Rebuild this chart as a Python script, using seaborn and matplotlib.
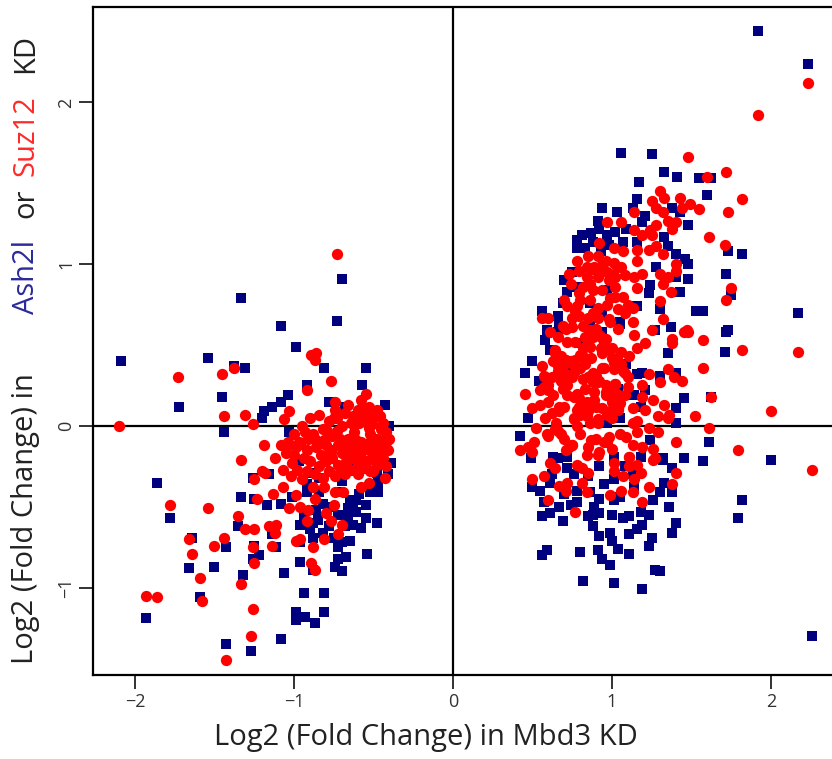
import matplotlib
matplotlib.use('Agg')
import matplotlib.pyplot as plt
import seaborn as sns
import pandas as pd

# values (Mbd3 KD, Ash2l / Suz12 KD)
ash2l_left_x = [-2.09, -1.33, -1.08, -0.99, -0.70, -0.73, -1.54, -1.38, -1.31, -0.81, -0.55, -0.92, -0.57, -1.72, -1.45, -1.44, -1.04, -1.08, -1.14, -1.19, -1.20, -0.78, -0.68, -0.43, -0.40, -1.03,
                -1.86, -1.78, -1.64, -1.43, -1.66, -1.50, -1.59, -1.93, -1.43, -1.27, -1.08, -1.32, -1.25, -1.22, -1.26, -1.35, -1.33, -1.26, -1.16, -1.25, -1.17, -1.14, -1.11, -1.06, -0.96, -0.94, -0.81, -0.99, -0.99, -0.93, -0.87, -0.81, -0.88, -0.96, -0.54, -0.48, -0.67, -0.72, -0.74, -0.70, -0.65, -0.72,
                -0.66, -0.61, -0.55, -0.66, -0.61, -0.55, -0.58, -0.63, -0.65, -0.52, -0.47, -0.47, -0.41, -0.39, -0.48,
                -0.94, -0.96, -0.90, -0.85, -0.82, -0.86, -0.88, -1.01, -1.08, -0.92, -0.84, -0.75, -0.70, -0.97, -0.90, -0.84, -0.65, -0.71,
                -0.72, -0.68, -0.63, -0.59, -0.76, -0.78, -0.82, -0.88, -0.92, -0.70]
ash2l_left_y = [0.40, 0.79, 0.62, 0.49, 0.91, 0.65, 0.42, 0.37, 0.36, 0.36, 0.36, 0.25, 0.25, 0.12, 0.18, -0.04, 0.19, 0.15, 0.12, 0.09, 0.05, 0.15, 0.12, 0.13, 0.00, -0.04,
                -0.35, -0.57, -0.69, -0.75, -0.88, -0.87, -1.06, -1.19, -1.35, -1.39, -1.32, -0.92, -0.74, -0.80, -0.82, -0.62, -0.44, -0.32, -0.30, -0.45, -0.49, -0.67, -0.75, -0.91, -0.84, -1.03, -1.03, -1.15, -1.20, -1.18, -1.22, -1.15, -0.89, -0.72, -0.79, -0.60, -0.81, -0.82, -0.87, -0.90, -0.71, -0.75,
                -0.51, -0.46, -0.49, -0.56, -0.53, -0.57, -0.63, -0.61, -0.46, -0.41, -0.41, -0.35, -0.30, -0.23, -0.29,
                -0.55, -0.61, -0.64, -0.58, -0.66, -0.52, -0.69, -0.44, -0.48, -0.41, -0.41, -0.69, -0.72, -0.22, -0.29, -0.32, -0.23, -0.41,
                -0.55, -0.62, -0.50, -0.42, -0.50, -0.62, -0.48, -0.60, -0.36, -0.34]

ash2l_right_x = [1.06, 1.25, 1.33, 1.41, 1.17, 1.55, 1.62, 1.60, 1.16, 0.94, 1.03, 1.13, 1.21, 0.91, 1.48, 1.38, 1.43, 1.19, 1.09, 0.92, 0.87, 0.81, 0.78, 0.78, 0.97, 1.07, 1.16, 1.33, 1.35, 1.40, 1.46, 1.48, 1.28, 1.40, 1.48, 1.73, 1.82, 1.72, 1.75, 1.43, 1.24, 1.23, 1.30, 1.53, 1.57, 1.73, 1.37, 1.05, 0.56, 0.66, 0.69, 0.72, 0.78, 0.97, 0.86, 0.94, 0.59, 1.16,
                 1.72, 1.71, 1.27, 1.35, 0.50, 0.45, 0.58, 0.42, 0.47, 0.49, 1.45, 1.62, 1.40, 1.40, 1.61, 1.57, 1.45, 1.19, 1.30, 1.40, 1.09, 1.16, 1.21, 1.14, 1.18, 1.24, 1.32, 1.05, 0.97, 1.04, 0.67, 0.86, 1.05, 0.61, 0.74, 0.80, 0.94,
                 2.00, 1.82, 1.79, 2.26, 1.36, 1.40, 1.38, 1.25, 1.23, 1.27, 1.30, 1.19, 1.01, 0.82, 0.99, 0.94, 0.91, 0.80, 0.59, 0.56, 1.04, 1.11, 1.00, 0.99, 0.92, 0.88, 1.11, 1.16, 1.19, 1.23, 1.18, 1.07, 1.11, 1.00, 0.92, 0.85, 0.89, 0.69, 0.56, 0.61, 0.67, 0.74, 0.57, 0.50, 0.55, 0.61, 1.26, 1.30, 1.33, 1.38, 1.38, 1.32, 1.01, 0.92, 0.86, 1.01, 0.78, 0.72, 0.63, 0.72, 0.92, 1.01, 1.18, 1.08, 1.14,
                 1.92, 2.23, 2.17,
                 0.62, 0.70, 0.78, 0.85, 0.95, 1.05, 1.13, 0.66, 0.76, 0.88,
                 0.83, 0.88, 0.93, 0.98, 1.02, 0.75, 0.70, 0.66, 0.62, 0.54]
ash2l_right_y = [1.69, 1.68, 1.57, 1.54, 1.51, 1.53, 1.53, 1.43, 1.40, 1.35, 1.32, 1.35, 1.30, 1.27, 1.24, 1.35, 1.32, 1.26, 1.22, 1.22, 1.19, 1.18, 1.15, 1.10, 1.18, 1.14, 1.14, 1.17, 1.11, 1.06, 1.03, 1.00, 0.98, 0.92, 0.91, 1.08, 1.06, 0.94, 0.81, 0.83, 0.87, 0.82, 0.72, 0.71, 0.71, 0.59, 0.61, 0.64, 0.71, 0.68, 0.76, 0.83, 0.86, 0.84, 0.76, 0.70, 0.59, 0.74,
                 0.58, 0.46, 0.59, 0.45, 0.40, 0.33, 0.53, -0.06, 0.05, -0.20, 0.17, 0.18, 0.11, 0.02, -0.10, -0.22, -0.20, 0.33, 0.31, 0.33, 0.38, 0.32, 0.22, 0.19, 0.12, -0.09, -0.20, 0.05, 0.02, 0.23, 0.62, 0.62, 0.63, 0.47, 0.35, 0.51, 0.58,
                 -0.21, -0.46, -0.57, -1.30, -0.50, -0.60, -0.66, -0.69, -0.74, -0.89, -0.90, -1.01, -0.97, -0.96, -0.86, -0.82, -0.77, -0.78, -0.77, -0.80, -0.76, -0.79, -0.71, -0.66, -0.68, -0.62, -0.67, -0.64, -0.61, -0.55, -0.53, -0.57, -0.56, -0.55, -0.54, -0.56, -0.50, -0.59, -0.56, -0.54, -0.50, -0.49, -0.47, -0.38, -0.40, -0.35, -0.46, -0.41, -0.35, -0.41, -0.26, -0.21, -0.46, -0.45, -0.41, -0.33, -0.40, -0.26, -0.19, -0.19, -0.25, -0.19, -0.19, -0.25, -0.38,
                 2.44, 2.24, 0.70,
                 -0.30, -0.42, -0.47, -0.31, -0.36, -0.44, -0.30, -0.20, -0.30, -0.55,
                 1.10, 1.14, 1.08, 1.12, 1.20, 0.95, 0.90, 0.58, 0.47, 0.28]

suz12_left_x = [-0.73, -0.89, -0.86, -0.87, -1.73, -1.45, -1.38, -0.77, -0.92, -0.55, -0.58, -0.53, -0.74, -2.10, -1.44, -1.31, -1.26, -1.03, -1.06, -1.19, -1.08, -1.04, -1.33,
                -1.20, -1.25, -1.78, -1.54, -1.35, -1.31, -1.25, -1.23, -1.13, -1.16, -1.11, -1.12, -1.14, -1.44, -1.50, -1.66, -1.64, -1.59, -1.58, -1.93, -1.86, -1.26, -1.25, -1.33, -1.26, -1.27, -1.43, -0.99, -0.96, -0.88, -0.81, -0.89, -0.87, -0.72, -0.70, -0.92, -0.77, -0.80, -0.75, -1.03, -0.96, -0.91, -0.87, -0.99, -1.07, -0.88, -0.81, -0.74, -0.69, -0.58, -0.53, -0.43, -0.42,
                -1.07, -1.02, -0.98, -0.95, -0.92, -0.90, -0.87, -0.84, -0.82, -0.80, -0.78, -0.76, -0.74, -0.72, -0.70, -0.68, -0.66, -0.64, -0.62, -0.60, -0.58, -0.56, -0.54, -0.52, -0.50, -0.48, -0.46, -0.44, -0.42,
                -1.03, -1.00, -0.97, -0.95, -0.92, -0.90, -0.88, -0.86, -0.84, -0.82, -0.80, -0.78, -0.76, -0.74, -0.72, -0.70, -0.68, -0.66, -0.64, -0.62, -0.60, -0.58, -0.56, -0.54, -0.52, -0.50, -0.48, -0.46, -0.44, -0.42, -0.40, -0.42,
                -1.12, -1.18, -1.05, -1.00, -0.96, -0.93, -0.77, -0.71, -0.65, -0.59, -0.53, -0.47, -0.41,
                -0.81, -0.77, -0.73, -0.69, -0.75, -0.71, -0.67, -0.63, -0.79, -0.65,
                -0.61, -0.57, -0.53, -0.49, -0.45, -0.59, -0.55, -0.51, -0.47, -0.43,
                -0.63, -0.60, -0.56, -0.52, -0.48, -0.44, -0.69, -0.73, -0.83, -0.87,
                -0.91, -0.94, -0.99, -1.01, -0.79, -0.62, -0.50, -0.57, -0.46, -0.66]
suz12_left_y = [1.06, 0.44, 0.45, 0.41, 0.30, 0.32, 0.36, 0.28, 0.22, 0.20, 0.16, 0.12, 0.15, 0.00, 0.06, 0.07, 0.01, 0.09, 0.04, -0.12, -0.12, -0.10, -0.21,
                -0.28, -0.33, -0.49, -0.51, -0.56, -0.64, -0.64, -0.45, -0.42, -0.62, -0.61, -0.66, -0.74, -0.69, -0.74, -0.70, -0.79, -0.94, -1.08, -1.05, -1.06, -0.75, -0.85, -0.98, -1.13, -1.30, -1.45, -0.71, -0.70, -0.75, -0.70, -0.85, -0.89, -0.67, -0.61, -0.59, -0.59, -0.54, -0.49, -0.51, -0.50, -0.52, -0.45, -0.43, -0.38, -0.38, -0.38, -0.41, -0.41, -0.38, -0.35, -0.32, -0.25,
                -0.27, -0.31, -0.27, -0.33, -0.28, -0.22, -0.30, -0.25, -0.32, -0.22, -0.28, -0.20, -0.31, -0.24, -0.17, -0.30, -0.21, -0.27, -0.15, -0.30, -0.20, -0.26, -0.14, -0.28, -0.18, -0.24, -0.12, -0.20, -0.10,
                -0.12, -0.05, -0.10, 0.00, -0.15, 0.05, -0.05, -0.13, 0.07, -0.02, -0.12, 0.03, -0.06, 0.10, -0.12, 0.00, 0.08, -0.08, 0.02, -0.04, 0.10, -0.10, 0.03, 0.09, -0.05, 0.05, -0.08, 0.06, 0.02, -0.04, -0.08, -0.15,
                -0.20, -0.29, -0.17, -0.18, -0.11, -0.04, -0.15, -0.08, -0.13, -0.17, -0.21, -0.17, -0.15,
                -0.09, -0.16, -0.03, -0.11, 0.05, -0.26, -0.19, 0.06, -0.18, -0.14,
                -0.09, -0.15, -0.01, -0.13, -0.02, 0.02, -0.22, 0.01, -0.18, -0.13,
                -0.20, -0.24, 0.07, -0.10, 0.10, -0.09, -0.24, 0.05, -0.18, -0.08,
                -0.08, -0.20, -0.13, -0.23, -0.03, 0.05, -0.28, 0.12, -0.22, 0.13]

suz12_right_x = [1.48, 1.60, 1.72, 1.82, 1.73, 1.55, 1.49, 1.43, 1.44, 1.30, 1.25, 1.33, 1.28, 1.32, 1.14, 0.97, 1.06, 1.35, 1.40, 1.38, 1.28, 1.24, 1.14, 1.19, 1.25, 0.92, 1.01, 1.07, 1.16, 1.23, 1.28, 1.32, 1.61, 1.71, 1.16, 1.40, 1.40, 1.30, 1.35, 1.32, 1.37, 1.19, 1.14, 1.16, 1.75, 1.72, 1.30, 1.32, 1.13, 1.25, 1.47,
                 0.78, 0.79, 0.85, 0.91, 0.89, 0.94, 1.01, 1.06, 1.02, 1.08, 0.84, 0.91, 0.82, 0.88, 0.79, 0.97, 0.70, 0.80, 0.72, 0.99, 1.02, 1.07, 0.97, 1.10, 1.04, 1.08, 1.13, 0.91, 0.85, 0.91, 0.77, 0.75, 0.56, 0.60, 0.69, 0.75, 0.99,
                 1.14, 1.38, 1.38, 1.45, 1.48, 1.57, 1.82, 1.57, 1.35, 1.23, 1.30, 1.39, 1.44, 1.19, 1.21, 1.16, 1.11, 1.62, 1.52, 1.61, 1.40, 1.79, 1.26, 1.27, 1.19, 1.13, 1.11, 1.29, 1.23, 1.16, 1.09, 1.35, 1.36, 1.33, 1.29, 1.26, 1.19, 1.21, 1.13, 1.04, 1.10, 1.10, 1.08, 1.13, 1.16, 0.45, 0.50, 0.52, 0.42, 0.47, 0.51, 0.50,
                 2.26, 1.40, 1.38, 1.23, 1.19, 1.13, 1.06, 0.99, 0.84, 0.77, 0.60, 0.50, 0.57, 0.67, 0.72, 0.71, 0.81, 0.61, 0.64, 0.78, 0.85, 0.81, 1.01, 1.01, 1.07, 1.14, 1.18, 1.11, 1.16, 1.26, 1.11, 0.84, 0.91,
                 1.92, 2.23, 2.17, 2.00,
                 0.56, 0.60, 0.64, 0.68, 0.72, 0.76, 0.80, 0.84, 0.88, 0.92, 0.96, 1.00, 1.04, 0.58, 0.62, 0.66, 0.70, 0.74, 0.78, 0.82, 0.86, 0.90, 0.94, 0.98, 1.02, 1.06, 0.55, 0.59, 0.63, 0.67, 0.71, 0.75, 0.79, 0.83, 0.87, 0.91, 0.95, 0.99, 1.03, 1.07, 0.57, 0.61, 0.65, 0.69, 0.73, 0.77, 0.81, 0.85, 0.89, 0.93, 0.97, 1.01, 1.05, 0.60, 0.64, 0.68, 0.72, 0.76, 0.80, 0.84, 0.88, 0.92, 0.96, 1.00, 1.04, 0.66, 0.71, 0.76, 0.81, 0.86, 0.91, 0.96, 1.01, 0.70, 0.78, 0.86, 0.94, 1.00,
                 0.62, 0.66, 0.70, 0.74, 0.78, 0.82, 0.86, 0.90, 0.94, 0.98,
                 1.02, 1.06, 0.60, 0.64, 0.68, 0.72, 0.76, 0.80, 0.84, 0.88,
                 0.92, 0.96, 1.00, 1.04, 1.08, 0.58, 0.63, 0.67, 0.71, 0.75,
                 0.79, 0.83, 0.87, 0.91, 0.95, 0.99, 1.03, 0.77, 0.81, 0.85,
                 0.89, 0.93, 0.97, 1.01, 1.05, 0.82, 0.86, 0.90, 0.94, 0.98,
                 1.02, 0.78, 0.84, 0.88, 0.96, 1.00, 1.04, 0.74, 0.92, 0.86,
                 0.65, 0.70, 0.75, 0.80, 0.85, 0.90, 0.95, 1.00, 0.60, 0.55,
                 0.66, 0.71, 0.88, 0.93, 0.98, 1.03, 0.73, 0.79, 0.83, 0.57]
suz12_right_y = [1.66, 1.54, 1.57, 1.40, 1.32, 1.34, 1.37, 1.41, 1.35, 1.45, 1.39, 1.41, 1.35, 1.32, 1.32, 1.26, 1.26, 1.27, 1.26, 1.22, 1.24, 1.21, 1.21, 1.18, 1.18, 1.13, 1.10, 1.08, 1.09, 1.09, 1.11, 1.06, 1.17, 1.12, 1.02, 1.00, 0.96, 0.94, 0.92, 0.88, 0.83, 0.94, 0.92, 0.85, 0.85, 0.78, 0.77, 0.66, 0.64, 0.59, 0.59,
                 1.02, 0.96, 1.05, 1.05, 0.98, 0.96, 1.01, 0.98, 0.92, 0.93, 0.92, 0.92, 0.86, 0.84, 0.82, 0.95, 0.78, 0.78, 0.74, 0.79, 0.80, 0.80, 0.75, 0.75, 0.72, 0.70, 0.73, 0.73, 0.67, 0.67, 0.71, 0.67, 0.67, 0.67, 0.62, 0.61, 0.64,
                 0.56, 0.54, 0.51, 0.58, 0.58, 0.53, 0.47, 0.36, 0.35, 0.32, 0.27, 0.30, 0.28, 0.25, 0.51, 0.48, 0.43, 0.18, 0.06, -0.01, -0.10, -0.15, -0.14, -0.20, -0.13, -0.12, -0.19, -0.04, -0.01, -0.04, -0.07, 0.05, 0.07, 0.13, 0.06, 0.16, 0.18, 0.10, 0.11, 0.11, 0.30, 0.24, 0.19, 0.02, 0.03, 0.20, 0.11, -0.01, -0.15, -0.13, -0.10, -0.16,
                 -0.27, -0.29, -0.36, -0.38, -0.47, -0.41, -0.40, -0.43, -0.41, -0.53, -0.46, -0.33, -0.31, -0.37, -0.35, -0.40, -0.35, -0.23, -0.26, -0.24, -0.29, -0.26, -0.23, -0.28, -0.31, -0.33, -0.29, -0.25, -0.24, -0.21, -0.19, -0.18, -0.18,
                 1.92, 2.12, 0.46, 0.09,
                 0.37, 0.15, 0.47, 0.28, 0.52, 0.18, 0.44, 0.06, 0.33, 0.56, 0.21, 0.42, 0.10, 0.05, 0.30, -0.03, 0.24, 0.39, 0.00, 0.29, 0.49, 0.12, 0.36, -0.07, 0.26, 0.46, 0.22, -0.05, 0.40, 0.12, 0.32, -0.12, 0.17, 0.38, -0.09, 0.27, 0.52, 0.09, 0.20, 0.34, 0.31, 0.58, 0.02, 0.23, -0.13, 0.41, 0.08, 0.30, 0.16, 0.55, -0.10, 0.35, 0.14, 0.25, -0.02, 0.43, 0.19, 0.33, 0.07, 0.50, 0.27, -0.16, 0.25, 0.48, 0.11, 0.37, -0.15, 0.04, 0.44, 0.59, 0.02, 0.54, 0.21, 0.38, 0.10, 0.31, 0.45, 0.15,
                 0.08, 0.34, 0.12, 0.40, 0.20, 0.48, 0.02, 0.31, 0.11, 0.47,
                 0.26, 0.38, 0.22, 0.45, -0.05, 0.25, 0.05, 0.36, 0.15, 0.55,
                 0.28, 0.19, 0.05, 0.14, 0.33, 0.30, 0.19, 0.09, 0.41, 0.30,
                 0.12, 0.23, 0.42, 0.04, 0.36, 0.24, 0.42, 0.52, 0.43, 0.09,
                 0.21, 0.48, 0.07, 0.39, -0.05, 0.62, 0.78, 0.60, 0.84, 0.66,
                 0.86, 0.74, 0.98, 0.70, 1.02, 0.93, 0.60, 0.88, 0.95, 0.88,
                 -0.02, -0.08, -0.12, -0.05, -0.13, -0.08, -0.10, -0.14, -0.06, 0.13,
                 0.55, 0.60, 0.97, 0.99, 0.90, 0.98, 0.94, 0.68, 0.55, 0.24]

x_ticks = [-2, -1, 0, 1, 2]
y_ticks = [-1, 0, 1, 2]
tick_labels_x = ['\u22122', '\u22121', '0', '1', '2']
tick_labels_y = ['\u22121', '0', '1', '2']

ash2l = pd.DataFrame({'x': ash2l_left_x + ash2l_right_x, 'y': ash2l_left_y + ash2l_right_y})
suz12 = pd.DataFrame({'x': suz12_left_x + suz12_right_x, 'y': suz12_left_y + suz12_right_y})

sns.set_style('white')
plt.rcParams['font.family'] = ['Open Sans', 'DejaVu Sans']

fig = plt.figure(figsize=(8.32, 7.59), dpi=100)
ax = fig.add_axes([93 / 832, 1 - 675 / 759, (832 - 93) / 832, (675 - 7) / 759])

sns.scatterplot(data=ash2l, x='x', y='y', marker='s', color='#00007f', s=50, linewidth=0, ax=ax, zorder=3)
sns.scatterplot(data=suz12, x='x', y='y', marker='o', color='#ff0000', s=66, linewidth=0, ax=ax, zorder=4)
ax.axhline(0, color='black', lw=1.6, zorder=2)
ax.axvline(0, color='black', lw=1.6, zorder=2)

ax.set_xlim(-2.264, 2.384)
ax.set_ylim(-1.54, 2.59)
ax.set_xticks(x_ticks, tick_labels_x)
ax.set_yticks(y_ticks, tick_labels_y, rotation=90, va='center')
ax.tick_params(axis='both', direction='out', length=10, width=1.3, color='#222222', labelsize=13,
               labelcolor='#333333', pad=3, bottom=True, left=True)
for side in ['left', 'top', 'bottom']:
    ax.spines[side].set_visible(True)
    ax.spines[side].set_linewidth(1.6)
    ax.spines[side].set_color('black')
ax.spines['right'].set_visible(False)
ax.set_xlabel('')
ax.set_ylabel('')

# axis titles, the y one is in pieces because of the colours
fig.text(426 / 832, 1 - 738 / 759, 'Log2 (Fold Change) in Mbd3 KD', ha='center', va='center', fontsize=21, color='#222222')
y_parts = [('Log2 (Fold Change) in', '#222222', 664),
           ('Ash2l', '#2a2a9c', 314),
           ('or', '#222222', 218),
           ('Suz12', '#ff2a2a', 176),
           ('KD', '#222222', 73)]
for txt, col, py in y_parts:
    fig.text(26 / 832, 1 - py / 759, txt, rotation=90, ha='center', va='bottom', fontsize=21, color=col)

plt.savefig('out.png', dpi=100)
